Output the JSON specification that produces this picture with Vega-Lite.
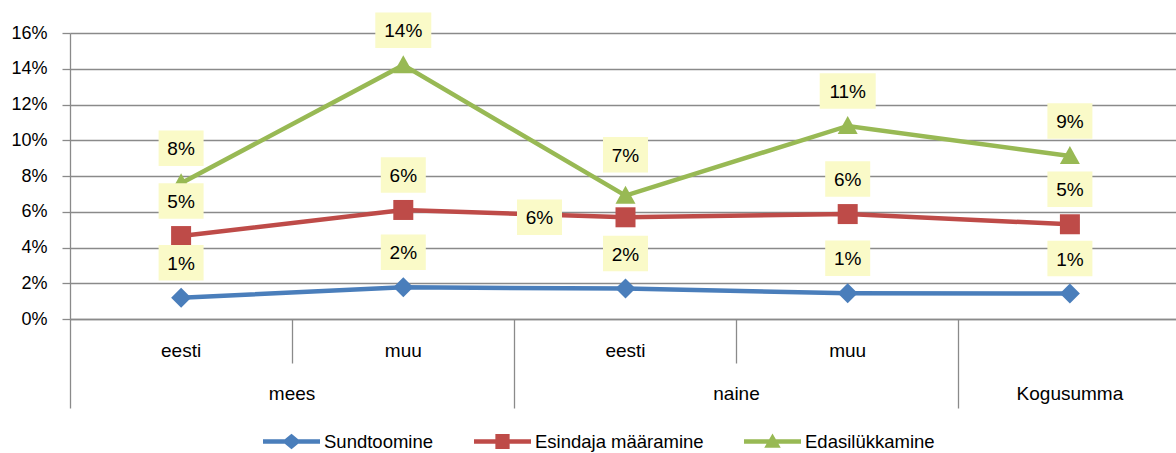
{
  "$schema": "https://vega.github.io/schema/vega-lite/v6.json",
  "width": 1106,
  "height": 286,
  "autosize": {"type": "none"},
  "padding": {"left": 70, "top": 33, "right": 0, "bottom": 134},
  "config": {
    "view": {"stroke": null},
    "font": "Liberation Sans",
    "axis": {"labelFont": "Liberation Sans", "labelColor": "#000000"},
    "legend": {"labelFont": "Liberation Sans", "labelColor": "#000000"}
  },
  "data": {
    "values": [
      {"cat": "mees|eesti", "series": "Sundtoomine", "v": 0.0119},
      {"cat": "mees|muu", "series": "Sundtoomine", "v": 0.0177},
      {"cat": "naine|eesti", "series": "Sundtoomine", "v": 0.0170},
      {"cat": "naine|muu", "series": "Sundtoomine", "v": 0.0144},
      {"cat": "Kogusumma", "series": "Sundtoomine", "v": 0.0142},
      {"cat": "mees|eesti", "series": "Esindaja määramine", "v": 0.0464},
      {"cat": "mees|muu", "series": "Esindaja määramine", "v": 0.0610},
      {"cat": "naine|eesti", "series": "Esindaja määramine", "v": 0.0569},
      {"cat": "naine|muu", "series": "Esindaja määramine", "v": 0.0587},
      {"cat": "Kogusumma", "series": "Esindaja määramine", "v": 0.0530},
      {"cat": "mees|eesti", "series": "Edasilükkamine", "v": 0.0760},
      {"cat": "mees|muu", "series": "Edasilükkamine", "v": 0.1420},
      {"cat": "naine|eesti", "series": "Edasilükkamine", "v": 0.0690},
      {"cat": "naine|muu", "series": "Edasilükkamine", "v": 0.1080},
      {"cat": "Kogusumma", "series": "Edasilükkamine", "v": 0.0912}
    ]
  },
  "resolve": {"axis": {"x": "independent"}},
  "encoding": {
    "y": {
      "field": "v", "type": "quantitative",
      "scale": {"domain": [0, 0.16], "nice": false, "zero": true},
      "axis": {
        "title": null, "values": [0, 0.02, 0.04, 0.06, 0.08, 0.1, 0.12, 0.14, 0.16], "format": ".0%",
        "labelFontSize": 18, "tickSize": 8, "tickColor": "#8a8a8a", "tickWidth": 1.3,
        "domainColor": "#8a8a8a", "domainWidth": 1.3, "grid": true, "gridColor": "#8a8a8a", "gridWidth": 1.3,
        "labelPadding": 15
      }
    }
  },
  "layer": [
    {
      "mark": {"type": "line", "strokeWidth": 4.5},
      "encoding": {
        "x": {
          "field": "cat", "type": "nominal",
          "scale": {"type": "band", "domain": ["mees|eesti", "mees|muu", "naine|eesti", "naine|muu", "Kogusumma"], "range": [0, 1111], "paddingInner": 0, "paddingOuter": 0},
          "axis": {
            "orient": "bottom", "title": null, "ticks": false, "grid": false,
            "domain": true, "domainColor": "#8a8a8a", "domainWidth": 1.3,
            "labelExpr": "datum.value == 'Kogusumma' ? ['', 'Kogusumma'] : split(datum.value, '|')[1]",
            "labelFontSize": 19, "labelPadding": 37, "labelBaseline": "alphabetic", "labelLineHeight": 43,
            "labelAngle": 0, "labelOverlap": false, "labelBound": false
          }
        },
        "color": {
          "field": "series", "type": "nominal",
          "scale": {"domain": ["Sundtoomine", "Esindaja määramine", "Edasilükkamine"], "range": ["#4A7EBB", "#BE4B48", "#98B954"]},
          "legend": {
            "orient": "none", "legendX": 193, "legendY": 380, "direction": "horizontal", "title": null,
            "labelFontSize": 18.5, "labelLimit": 400, "symbolSize": 3249, "labelOffset": 4, "columnPadding": 40, "padding": 0,
            "encode": {
              "symbols": {
                "update": {
                  "shape": {"signal": "datum.value == 'Sundtoomine' ? 'M-1,-0.08H1V0.08H-1Z M-0.33,0L0,-0.27L0.33,0L0,0.27Z' : datum.value == 'Esindaja määramine' ? 'M-1,-0.08H1V0.08H-1Z M-0.25,-0.26H0.25V0.26H-0.25Z' : 'M-1,-0.08H1V0.08H-1Z M0,-0.28L0.29,0.22L-0.29,0.22Z'"},
                  "fill": {"scale": "color", "field": "value"},
                  "stroke": {"value": "transparent"},
                  "strokeWidth": {"value": 0},
                  "opacity": {"value": 1}
                }
              }
            }
          }
        }
      }
    },
    {
      "mark": {"type": "point", "filled": true, "opacity": 1, "size": 400},
      "encoding": {
        "x": {
          "field": "cat", "type": "nominal",
          "axis": {
            "orient": "bottom", "title": null, "values": ["mees|eesti", "naine|eesti", "Kogusumma"],
            "bandPosition": 0, "ticks": true, "tickSize": 89, "tickColor": "#8a8a8a", "tickWidth": 1.3,
            "domain": false, "grid": false,
            "labelExpr": "datum.value == 'Kogusumma' ? '' : split(datum.value, '|')[0]",
            "labelOffset": 111, "labelPadding": -9, "labelBaseline": "alphabetic", "labelFontSize": 19,
            "labelAngle": 0, "labelOverlap": false, "labelBound": false
          }
        },
        "color": {"field": "series", "type": "nominal", "legend": null},
        "shape": {
          "condition": [
            {"test": "datum.series == 'Sundtoomine'", "value": "diamond"},
            {"test": "datum.series == 'Esindaja määramine'", "value": "square"}
          ],
          "value": "M0,-1L1,0.8L-1,0.8Z"
        }
      }
    },
    {
      "mark": {
        "type": "point", "filled": true, "fill": "#FAFAC8", "opacity": 1, "strokeWidth": 0,
        "xOffset": {"expr": "datum.series == 'Esindaja määramine' && datum.cat == 'naine|eesti' ? -86 : 0"},
        "yOffset": {"expr": "datum.series == 'Esindaja määramine' && datum.cat == 'naine|eesti' ? 0 : (datum.series == 'Edasilükkamine' && datum.cat == 'naine|eesti' ? -41 : -35)"}
      },
      "encoding": {
        "x": {
          "field": "cat", "type": "nominal",
          "axis": {
            "orient": "bottom", "title": null, "values": ["mees|muu", "naine|muu"],
            "bandPosition": 0, "ticks": true, "tickSize": 44, "tickColor": "#8a8a8a", "tickWidth": 1.3,
            "domain": false, "grid": false, "labels": false
          }
        },
        "shape": {
          "condition": {"test": "datum.v >= 0.095", "value": "M-1,-0.634H1V0.634H-1Z"},
          "value": "M-1,-0.789H1V0.789H-1Z"
        },
        "size": {
          "condition": {"test": "datum.v >= 0.095", "value": 3136},
          "value": 2025
        }
      }
    },
    {
      "mark": {
        "type": "text", "fontSize": 19, "color": "#000000", "baseline": "middle", "align": "center",
        "font": "Liberation Sans",
        "xOffset": {"expr": "datum.series == 'Esindaja määramine' && datum.cat == 'naine|eesti' ? -86 : 0"},
        "yOffset": {"expr": "datum.series == 'Esindaja määramine' && datum.cat == 'naine|eesti' ? 1 : (datum.series == 'Edasilükkamine' && datum.cat == 'naine|eesti' ? -40 : -34)"}
      },
      "encoding": {
        "x": {"field": "cat", "type": "nominal", "axis": null},
        "text": {"field": "v", "type": "quantitative", "format": ".0%"}
      }
    }
  ]
}
